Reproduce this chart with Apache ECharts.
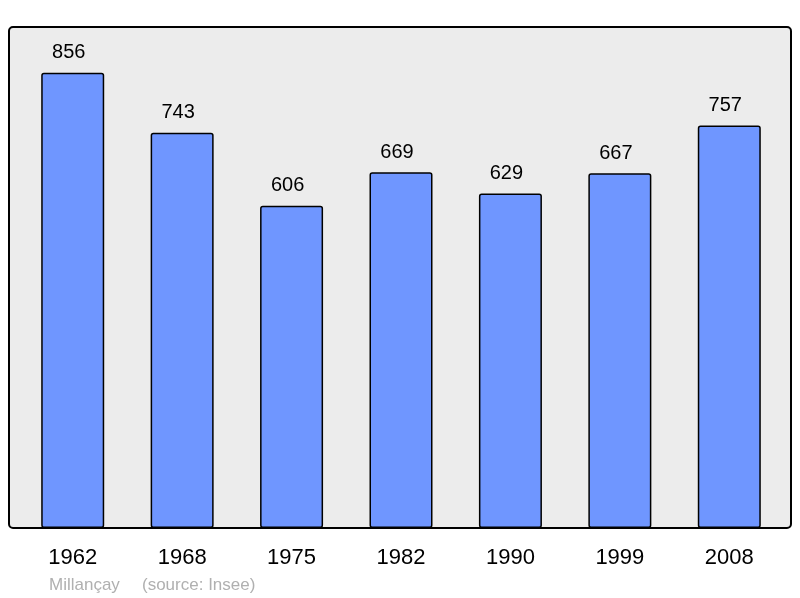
<!DOCTYPE html>
<html>
<head>
    <meta charset="utf-8">
    <title>Millançay</title>
    <script src="https://cdn.jsdelivr.net/npm/echarts@6/dist/echarts.min.js"></script>
    <style>
        html, body { margin: 0; padding: 0; background: #ffffff; }
        #chart { width: 800px; height: 598px; }
    </style>
</head>
<body>
    <div id="chart"></div>
    <script>
        // données de population
        var years = ['1962', '1968', '1975', '1982', '1990', '1999', '2008'];
        var population = [856, 743, 606, 669, 629, 667, 757];

        var chart = echarts.init(document.getElementById('chart'));
        var option = {
            animation: false,
            textStyle: { fontFamily: 'Liberation Sans, Arial, sans-serif' },
            graphic: [
                {
                    type: 'rect',
                    z: -10,
                    shape: { x: 9, y: 27, width: 782, height: 501, r: 4 },
                    style: { fill: '#ececec', stroke: '#000000', lineWidth: 2 }
                },
                {
                    type: 'text',
                    left: 49, top: 577,
                    style: { text: 'Millançay', fill: '#b0b0b0', font: '17px Liberation Sans' }
                },
                {
                    type: 'text',
                    left: 142, top: 577,
                    style: { text: '(source: Insee)', fill: '#b0b0b0', font: '17px Liberation Sans' }
                }
            ],
            grid: { left: 18, right: 16, top: 27, bottom: 70 },
            xAxis: {
                type: 'category',
                data: years,
                axisLine: { show: false },
                axisTick: { show: false },
                axisLabel: { color: '#000000', fontSize: 22, margin: 19 }
            },
            yAxis: {
                type: 'value',
                min: 0,
                max: 942,
                show: false,
                splitLine: { show: false }
            },
            series: [{
                type: 'bar',
                data: population,
                barWidth: 63,
                itemStyle: {
                    color: '#6f96ff',
                    borderColor: '#000000',
                    borderWidth: 1.5,
                    borderRadius: 2
                },
                label: {
                    show: true,
                    position: 'top',
                    distance: 10,
                    offset: [-4, 0],
                    color: '#000000',
                    fontSize: 20
                }
            }]
        };
        chart.setOption(option);
    </script>
</body>
</html>
